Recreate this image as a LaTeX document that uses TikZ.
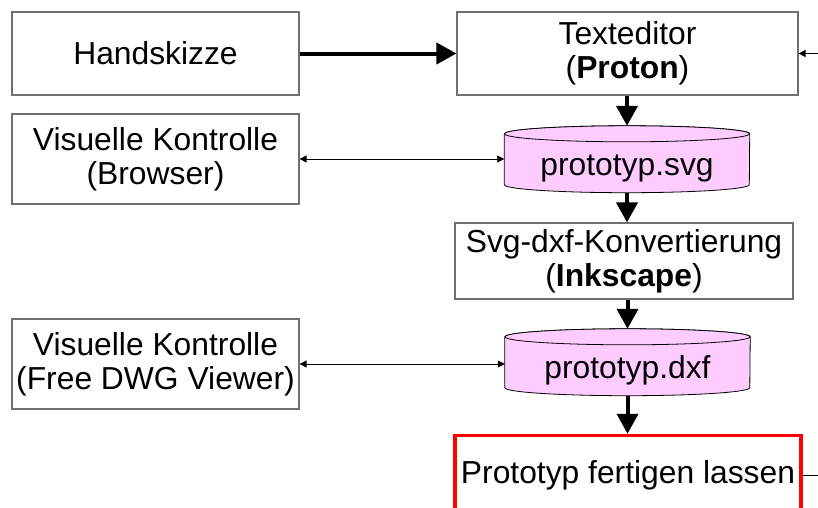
\documentclass[tikz,border=0pt]{standalone}
\usepackage{fontspec}
\setmainfont{Liberation Sans}
\usepackage{tikz}
\usetikzlibrary{arrows.meta}
\usetikzlibrary{backgrounds}
\definecolor{filepink}{HTML}{FFCCFF}
\definecolor{boxgray}{HTML}{707070}
\definecolor{boxred}{HTML}{FF0000}
\tikzset{
	boxstyle/.style={rectangle,draw=boxgray,line width=1.2pt,fill=white,inner sep=0pt,align=center},
	filestyle/.style={rectangle,inner sep=0pt,minimum width=245pt,text height=49pt,text depth=17.5pt},
	cylstyle/.style={draw=black,line width=0.8pt,fill=filepink},
	redstyle/.style={rectangle,draw=boxred,line width=3.5pt,fill=white,inner sep=0pt},
	bigarrow/.style={line width=4pt,-{Triangle[length=20pt,width=21pt]}},
	smallarrow/.style={line width=0.8pt,-{Triangle[length=7pt,width=7pt]}},
	twoarrow/.style={line width=0.8pt,{Triangle[length=7pt,width=7pt]}-{Triangle[length=7pt,width=7pt]}}
}

\begin{document}
\begin{tikzpicture}[x=1pt,y=-1pt]
	\fontsize{31.8}{34}\selectfont
	\useasboundingbox (0,0) rectangle (818,507);
	\node[boxstyle,minimum width=287pt,minimum height=83pt] (hand) at (155.5,53.5) {Handskizze};
	\node[boxstyle,minimum width=341pt,minimum height=83pt] (edit) at (627.5,53.5) {Texteditor\\(\textbf{Proton})};
	\node[boxstyle,minimum width=287pt,minimum height=90pt] (browser) at (155.5,159) {Visuelle Kontrolle\\(Browser)};
	\node[filestyle] (svg) at (627,159.25) {prototyp.svg};
	\node[boxstyle,minimum width=338pt,minimum height=76pt] (conv) at (624,261) {Svg-dxf-Konvertierung\\(\textbf{Inkscape})};
	\node[filestyle] (dxf) at (627.5,362.25) {prototyp.dxf};
	\node[boxstyle,minimum width=287pt,minimum height=90pt] (viewer) at (155.5,364) {Visuelle Kontrolle\\(Free DWG Viewer)};
	\node[redstyle,minimum width=346pt,minimum height=79pt] (proto) at (628,475) {Prototyp fertigen lassen};
	\coordinate (editin) at (818,53.5);
	\coordinate (protoout) at (818,475);
	% file cylinders behind the file names
	\begin{scope}[on background layer]
		\foreach \f in {svg,dxf} {
			\draw[cylstyle] ([yshift=-8pt]\f.north west) -- ([yshift=8pt]\f.south west)
				arc[start angle=180,end angle=360,x radius=122.5pt,y radius=8pt]
				-- ([yshift=-8pt]\f.north east)
				arc[start angle=0,end angle=180,x radius=122.5pt,y radius=8pt] -- cycle;
			\draw[cylstyle] ([yshift=-8pt]\f.north) ellipse[x radius=122.5pt,y radius=8pt];
		}
	\end{scope}
	\draw[bigarrow] (hand.east)--(edit.west);
	\draw[bigarrow] (svg.north |- edit.south)--(svg.north);
	\draw[bigarrow] (svg.south)--(svg.south |- conv.north);
	\draw[bigarrow] (dxf.north |- conv.south)--(dxf.north);
	\draw[bigarrow] (dxf.south)--(dxf.south |- proto.north);
	\draw[twoarrow] (browser.east)--(browser.east -| svg.west);
	\draw[twoarrow] (viewer.east)--(viewer.east -| dxf.west);
	\draw[smallarrow] (editin)--(edit.east);
	\draw[line width=0.8pt] (proto.east)--(protoout);
\end{tikzpicture}
\end{document}
